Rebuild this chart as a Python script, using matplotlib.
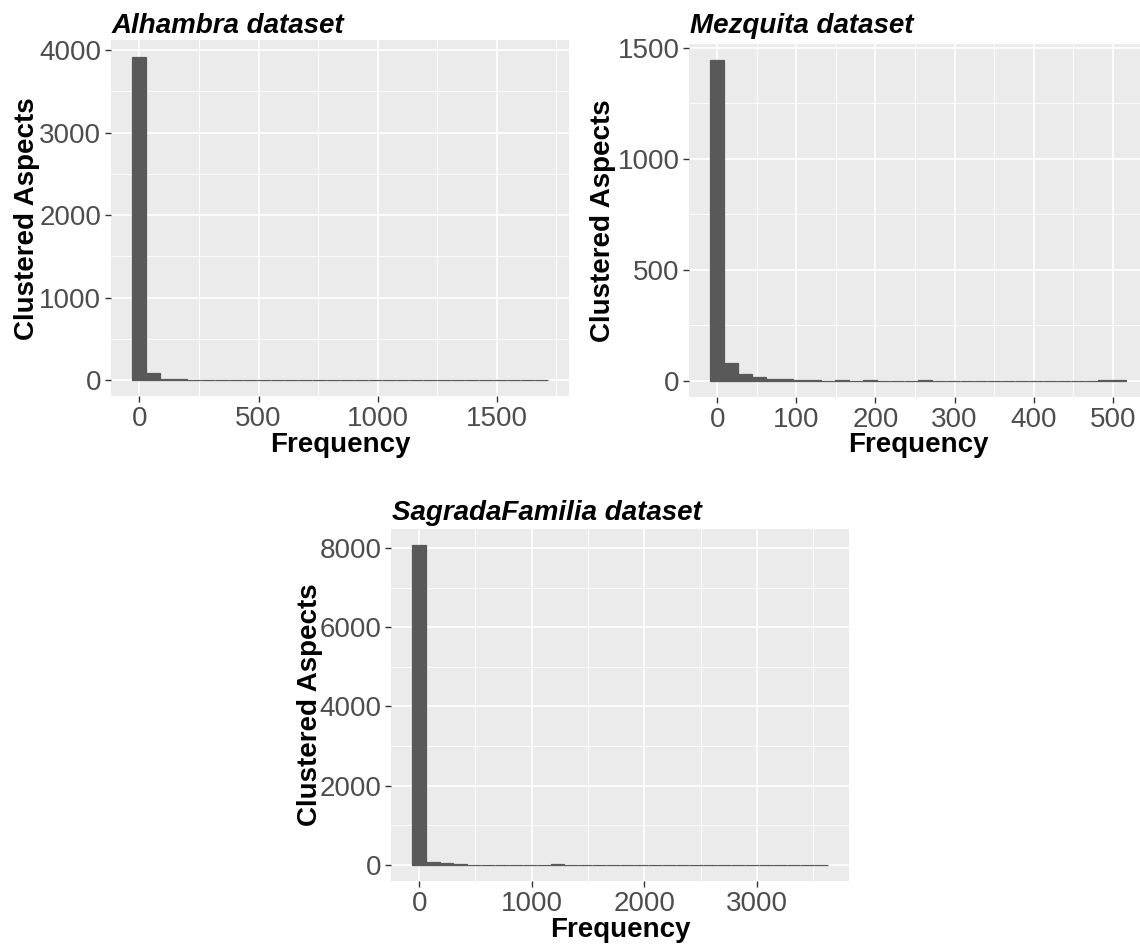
import numpy as np
import matplotlib
matplotlib.use("Agg")
import matplotlib.pyplot as plt
from matplotlib.ticker import MultipleLocator

plt.rcParams['font.family'] = ['Liberation Sans', 'DejaVu Sans']

# ---- data (30-bin histograms, counts) ----
titles = ["Alhambra dataset", "Mezquita dataset", "SagradaFamilia dataset"]

alhambra_range = (-32, 1716)
alhambra_counts = [3919, 92, 16, 14, 5, 4, 3, 2, 2, 1, 1, 1, 0, 1, 1, 0, 1, 0,
                   0, 1, 0, 0, 0, 1, 0, 0, 0, 0, 0, 1]

mezquita_range = (-9, 517)
mezquita_counts = [1445, 82, 30, 16, 9, 9, 3, 3, 1, 5, 1, 5, 1, 1, 1, 5, 0, 0,
                   0, 1, 0, 1, 0, 0, 0, 0, 1, 0, 4, 4]

sagrada_range = (-65, 3632)
sagrada_counts = [8075, 68, 43, 15, 12, 10, 9, 8, 8, 0, 30, 2, 1, 1, 1, 1, 1, 0,
                  1, 0, 1, 0, 0, 1, 0, 0, 0, 0, 0, 1]

x_major = [500, 100, 1000]
y_major = [1000, 500, 2000]

xlabel = "Frequency"
ylabel = "Clustered Aspects"

# ---- layout (pixel boxes: left, right, top, bottom) ----
W, H = 1140, 946
boxes = [(111, 569, 40.5, 396.5), (689.3, 1147, 44, 397), (391, 849, 529, 881)]
ylabel_x = [27, 603, 310]
title_base = [33, 33, 520]

fig = plt.figure(figsize=(W / 100, H / 100), dpi=100)

datasets = [(alhambra_range, alhambra_counts),
            (mezquita_range, mezquita_counts),
            (sagrada_range, sagrada_counts)]

for i, ((lo, hi), counts) in enumerate(datasets):
    l, r, t, b = boxes[i]
    ax = fig.add_axes([l / W, 1 - b / H, (r - l) / W, (b - t) / H])
    ax.set_facecolor('#EBEBEB')
    edges = np.linspace(lo, hi, len(counts) + 1)
    ax.bar(edges[:-1], counts, width=np.diff(edges), align='edge',
           color='#595959', edgecolor='#595959', linewidth=0.9, zorder=3)
    span = hi - lo
    ax.set_xlim(lo - 0.05 * span, hi + 0.05 * span)
    ymax = max(counts)
    ax.set_ylim(-0.05 * ymax, 1.05 * ymax)
    ax.xaxis.set_major_locator(MultipleLocator(x_major[i]))
    ax.xaxis.set_minor_locator(MultipleLocator(x_major[i] / 2))
    ax.yaxis.set_major_locator(MultipleLocator(y_major[i]))
    ax.yaxis.set_minor_locator(MultipleLocator(y_major[i] / 2))
    ax.grid(which='major', color='white', linewidth=1.2, zorder=0)
    ax.grid(which='minor', color='white', linewidth=0.6, zorder=0)
    ax.set_axisbelow(True)
    for s in ax.spines.values():
        s.set_visible(False)
    ax.tick_params(which='major', length=4, width=1, color='#333333',
                   labelsize=20, labelcolor='#4D4D4D', pad=3)
    ax.tick_params(which='minor', length=0)

    cx = (l + r) / 2
    fig.text(cx / W, 1 - (b + 55.5) / H, xlabel, ha='center', va='baseline',
             fontsize=20, fontweight='bold', color='black')
    fig.text(ylabel_x[i] / W, 1 - ((t + b) / 2) / H, ylabel, ha='center',
             va='center', rotation=90, fontsize=20, fontweight='bold',
             color='black')
    fig.text((l + 1) / W, 1 - title_base[i] / H, titles[i], ha='left',
             va='baseline', fontsize=20, fontweight='bold', fontstyle='italic',
             color='black')

fig.savefig("out.png", dpi=100)
